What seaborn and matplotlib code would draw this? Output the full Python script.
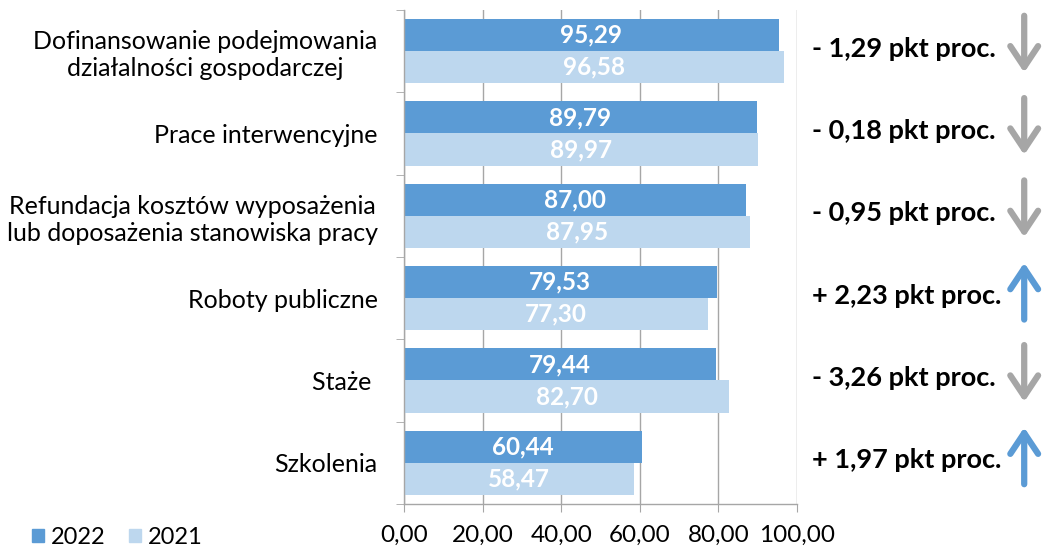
import seaborn as sns
import matplotlib.pyplot as plt
import matplotlib.patches as mpatches
import pandas as pd

# dane z wykresu
categories = [
    "Dofinansowanie podejmowania\ndziałalności gospodarczej",
    "Prace interwencyjne",
    "Refundacja kosztów wyposażenia\nlub doposażenia stanowiska pracy",
    "Roboty publiczne",
    "Staże ",
    "Szkolenia",
]
values_2022 = [95.29, 89.79, 87.00, 79.53, 79.44, 60.44]
values_2021 = [96.58, 89.97, 87.95, 77.30, 82.70, 58.47]
years = ["2022", "2021"]
x_ticks = [0, 20, 40, 60, 80, 100]

c2022 = "#5B9BD5"
c2021 = "#BDD7EE"
grey = "#A6A6A6"


def fmt(v):
    return f"{v:.2f}".replace(".", ",")


df = pd.DataFrame({
    "kategoria": categories * 2,
    "wartosc": values_2022 + values_2021,
    "rok": [years[0]] * len(categories) + [years[1]] * len(categories),
})

plt.rcParams['font.family'] = ['Lato', 'DejaVu Sans']

fig = plt.figure(figsize=(10.42, 5.52), dpi=100)
ax = fig.add_axes([0.3877, 0.0870, 0.3772, 0.8949])

sns.barplot(data=df, x="wartosc", y="kategoria", hue="rok", hue_order=years,
            orient="h", palette=[c2022, c2021], saturation=1, width=0.78,
            linewidth=0, legend=False, ax=ax)

# etykiety w slupkach
for cont, vals in zip(ax.containers, [values_2022, values_2021]):
    ax.bar_label(cont, labels=[fmt(v) for v in vals], label_type="center",
                 color="white", fontweight="bold", fontsize=17.5)

ax.set_xlim(0, 100)
ax.set_ylim(len(categories) - 0.5, -0.5)
ax.set_xticks(x_ticks)
ax.set_xticklabels([fmt(t) for t in x_ticks], fontsize=17.5)
ax.set_yticks(range(len(categories)))
ax.set_yticklabels(categories, fontsize=18, multialignment="center")
ax.set_yticks([i - 0.5 for i in range(len(categories) + 1)], minor=True)
ax.tick_params(axis="y", which="major", length=0, pad=19)
ax.tick_params(axis="y", which="minor", length=6, color=grey, direction="out")
ax.tick_params(axis="x", length=6, color=grey, pad=9)
ax.set_xlabel("")
ax.set_ylabel("")

ax.grid(axis="x", color=grey, linewidth=1)
ax.set_axisbelow(True)
for s in ["top", "right"]:
    ax.spines[s].set_visible(False)
for s in ["left", "bottom"]:
    ax.spines[s].set_color(grey)
    ax.spines[s].set_linewidth(1)

# zmiany w pkt proc. i strzalki
for i, (a, b) in enumerate(zip(values_2022, values_2021)):
    d = round(a - b, 2)
    sign = "+" if d > 0 else "-"
    ax.text(1.038, i - 0.03, f"{sign} {fmt(abs(d))} pkt proc.", transform=ax.get_yaxis_transform(),
            ha="left", va="center", fontsize=19.5, fontweight="bold", color="black")
    top, bottom = i - 0.43, i + 0.26
    if d > 0:
        start, end, col = bottom, top, c2022
    else:
        start, end, col = top, bottom, grey
    ax.annotate("", xy=(1.578, end), xytext=(1.578, start),
                xycoords=ax.get_yaxis_transform(), textcoords=ax.get_yaxis_transform(),
                arrowprops=dict(arrowstyle="->,head_length=0.75,head_width=0.5",
                                mutation_scale=20, lw=4.5, color=col,
                                shrinkA=0, shrinkB=0))

handles = [mpatches.Patch(color=c2022, label=years[0]),
           mpatches.Patch(color=c2021, label=years[1])]
fig.legend(handles=handles, loc="center left", bbox_to_anchor=(0.031, 0.026), ncol=2,
           frameon=False, fontsize=17, handlelength=0.5, handleheight=0.5,
           handletextpad=0.3, columnspacing=1.0, borderpad=0, borderaxespad=0)

fig.savefig("out.png", dpi=100)
